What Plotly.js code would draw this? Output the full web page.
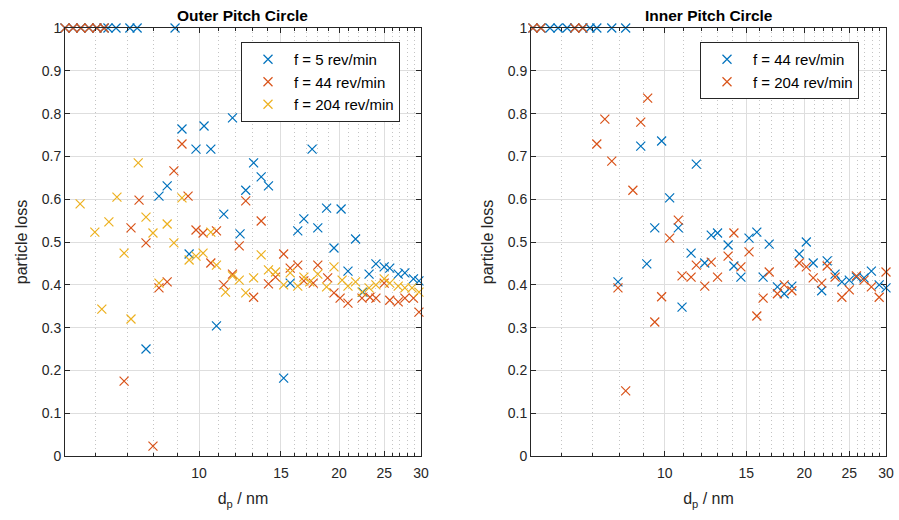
<!DOCTYPE html>
<html>
<head>
<meta charset="utf-8">
<script src="https://cdn.plot.ly/plotly-3.0.1.min.js"></script>
<style>
  html, body { margin: 0; padding: 0; background: #fff; }
  #chart { width: 899px; height: 520px; }
</style>
</head>
<body>
<div id="chart"></div>
<script>
// Particle diameter (nm) and loss fraction, outer pitch circle
const outerSize5 = [5.15,5.36,5.57,5.80,6.03,6.25,6.37,6.63,7.10,7.36,7.69,8.20,8.54,8.88,9.19,9.52,9.85,10.25,10.6,10.9,11.3,11.8,12.25,12.6,13.1,13.6,14.1,15.2,15.7,16.3,16.8,17.5,18.0,18.8,19.5,20.2,20.9,21.7,22.5,23.2,24.0,25.0,25.7,26.8,27.7,28.9,29.7];
const outerLoss5 = [1,1,1,1,1,1,1,1,1,1,0.25,0.607,0.631,1,0.764,0.472,0.717,0.771,0.717,0.304,0.565,0.790,0.519,0.621,0.685,0.652,0.631,0.182,0.404,0.526,0.554,0.717,0.533,0.579,0.486,0.577,0.432,0.507,0.383,0.425,0.449,0.442,0.439,0.425,0.428,0.414,0.409];

const outerSize44 = [5.15,5.36,5.57,5.80,6.03,6.25,6.90,7.14,7.43,7.69,7.96,8.20,8.54,8.83,9.19,9.47,9.85,10.2,10.6,10.9,11.3,11.8,12.2,12.6,13.1,13.6,14.1,14.6,15.2,15.7,16.3,16.8,17.6,18.0,18.9,19.5,20.1,20.9,22.4,23.3,24.0,25.0,25.7,26.8,27.7,28.9,29.7];
const outerLoss44 = [1,1,1,1,1,1,0.175,0.533,0.598,0.498,0.023,0.393,0.407,0.666,0.729,0.607,0.528,0.521,0.451,0.526,0.40,0.425,0.491,0.596,0.371,0.549,0.402,0.418,0.472,0.439,0.446,0.409,0.404,0.446,0.416,0.381,0.369,0.357,0.369,0.371,0.369,0.404,0.364,0.360,0.369,0.369,0.336];

const outerSize204 = [5.55,5.97,6.18,6.40,6.66,6.90,7.14,7.40,7.69,7.96,8.20,8.54,8.83,9.19,9.52,9.85,10.2,10.6,10.9,11.4,11.8,12.2,12.6,13.1,13.6,14.1,14.6,15.2,15.7,16.3,16.8,17.3,18.0,18.8,19.5,20.3,20.9,21.7,22.4,23.2,24.0,25.0,25.7,26.8,27.7,28.7,29.7];
const outerLoss204 = [0.589,0.523,0.343,0.547,0.605,0.474,0.320,0.685,0.558,0.521,0.404,0.542,0.498,0.603,0.458,0.467,0.474,0.523,0.446,0.383,0.421,0.411,0.381,0.416,0.470,0.435,0.430,0.400,0.428,0.397,0.418,0.407,0.425,0.395,0.442,0.411,0.397,0.407,0.383,0.393,0.400,0.414,0.404,0.397,0.393,0.393,0.383];

// Inner pitch circle
const innerSize44 = [5.20,5.41,5.66,5.89,6.16,6.40,6.66,6.90,7.14,7.69,7.93,8.24,8.88,9.15,9.52,9.85,10.25,10.7,10.9,11.4,11.7,12.2,12.6,13.0,13.7,14.1,14.6,15.2,15.8,16.3,16.8,17.5,18.1,18.8,19.5,20.2,20.9,21.8,22.4,23.3,24.1,25.0,25.9,26.9,27.9,29.0,30.0];
const innerLoss44 = [1,1,1,1,1,1,1,1,1,1,0.407,1,0.724,0.449,0.533,0.736,0.603,0.533,0.348,0.474,0.682,0.451,0.516,0.521,0.493,0.444,0.418,0.509,0.523,0.418,0.495,0.395,0.379,0.397,0.472,0.500,0.451,0.386,0.456,0.425,0.407,0.411,0.418,0.416,0.432,0.400,0.393];

const innerSize204 = [5.20,5.41,6.40,6.66,7.14,7.43,7.69,7.93,8.24,8.54,8.88,9.19,9.52,9.85,10.25,10.7,10.9,11.4,11.7,12.2,12.6,13.0,13.7,14.1,14.6,15.2,15.8,16.3,16.8,17.5,18.1,18.8,19.5,20.2,20.9,21.8,22.4,23.3,24.1,25.0,25.9,26.9,27.9,29.0,30.0];
const innerLoss204 = [1,1,1,1,0.729,0.787,0.689,0.393,0.152,0.621,0.780,0.836,0.313,0.372,0.509,0.551,0.421,0.418,0.446,0.397,0.453,0.418,0.467,0.521,0.442,0.477,0.327,0.369,0.430,0.379,0.400,0.386,0.451,0.442,0.416,0.404,0.444,0.418,0.371,0.388,0.421,0.411,0.395,0.371,0.430];

const seriesNames = ['f = 5 rev/min', 'f = 44 rev/min', 'f = 204 rev/min'];
const xTickVals = [10, 15, 20, 25, 30];
const xMinorVals = [6,7,8,9,11,12,13,14,16,17,18,19,21,22,23,24,26,27,28,29];
const yTickVals = [0,0.1,0.2,0.3,0.4,0.5,0.6,0.7,0.8,0.9,1];
const panelTitles = ['Outer Pitch Circle', 'Inner Pitch Circle'];

const blue = '#0072BD', red = '#D95319', gold = '#EDB120';
const ink = '#262626';
const font = 'Liberation Sans, Arial, Helvetica, sans-serif';

function cross(x, y, name, color, xa, ya, legend) {
  return {
    type: 'scatter', mode: 'markers', x: x, y: y, name: name,
    xaxis: xa, yaxis: ya, legend: legend, cliponaxis: false,
    marker: { symbol: 'x-thin-open', size: 9, color: color, line: { color: color, width: 1.2 } }
  };
}

const traces = [
  cross(outerSize5, outerLoss5, seriesNames[0], blue, 'x', 'y', 'legend'),
  cross(outerSize44, outerLoss44, seriesNames[1], red, 'x', 'y', 'legend'),
  cross(outerSize204, outerLoss204, seriesNames[2], gold, 'x', 'y', 'legend'),
  cross(innerSize44, innerLoss44, seriesNames[1], blue, 'x2', 'y2', 'legend2'),
  cross(innerSize204, innerLoss204, seriesNames[2], red, 'x2', 'y2', 'legend2')
];

function xAxis(domain, anchor) {
  return {
    domain: domain, anchor: anchor, type: 'log',
    range: [Math.log10(5.15), Math.log10(30)],
    tickmode: 'array', tickvals: xTickVals, ticktext: xTickVals.map(String),
    ticks: 'inside', ticklen: 5, tickwidth: 1, tickcolor: ink,
    showline: true, linecolor: ink, linewidth: 1, mirror: 'ticks',
    showgrid: true, gridcolor: '#dedede', gridwidth: 1, zeroline: false,
    ticklabelstandoff: 4,
    minor: { tickmode: 'array', tickvals: xMinorVals, ticks: 'inside', ticklen: 3, tickcolor: ink,
             showgrid: true, gridcolor: '#c4c4c4', gridwidth: 1, griddash: '1px,3px' },
    tickfont: { family: font, size: 14, color: ink },
    title: { text: 'd<sub>p</sub> / nm', font: { family: font, size: 16, color: ink }, standoff: 13 }
  };
}
function yAxis(domain, anchor) {
  return {
    domain: domain, anchor: anchor, range: [0, 1],
    tickmode: 'array', tickvals: yTickVals, ticktext: yTickVals.map(String),
    ticks: 'inside', ticklen: 5, tickwidth: 1, tickcolor: ink,
    showline: true, linecolor: ink, linewidth: 1, mirror: 'ticks',
    showgrid: true, gridcolor: '#dedede', gridwidth: 1, zeroline: false,
    tickfont: { family: font, size: 14, color: ink },
    title: { text: 'particle loss', font: { family: font, size: 16, color: ink }, standoff: 10 }
  };
}

const W = 899, H = 520;
const leftDom = [65 / W, 421 / W];
const rightDom = [531 / W, 886 / W];
const yDom = [1 - 456 / H, 1 - 28 / H];

const legendStyle = (x) => ({
  x: x, y: 1 - 42 / H, xanchor: 'left', yanchor: 'top',
  bgcolor: '#ffffff', bordercolor: ink, borderwidth: 1, itemwidth: 42,
  font: { family: font, size: 15, color: '#000' }
});

const layout = {
  width: W, height: H,
  margin: { l: 0, r: 0, t: 0, b: 0 },
  paper_bgcolor: '#ffffff', plot_bgcolor: '#ffffff',
  showlegend: true,
  xaxis: xAxis(leftDom, 'y'),
  yaxis: yAxis(yDom, 'x'),
  xaxis2: xAxis(rightDom, 'y2'),
  yaxis2: yAxis(yDom, 'x2'),
  legend: legendStyle(241 / W),
  legend2: legendStyle(700 / W),
  annotations: [
    { text: '<b>' + panelTitles[0] + '</b>', xref: 'paper', yref: 'paper',
      x: (leftDom[0] + leftDom[1]) / 2, y: 1 - 15 / H, xanchor: 'center', yanchor: 'middle',
      showarrow: false, font: { family: font, size: 15.5, color: '#000' } },
    { text: '<b>' + panelTitles[1] + '</b>', xref: 'paper', yref: 'paper',
      x: (rightDom[0] + rightDom[1]) / 2, y: 1 - 15 / H, xanchor: 'center', yanchor: 'middle',
      showarrow: false, font: { family: font, size: 15.5, color: '#000' } }
  ]
};

Plotly.newPlot('chart', traces, layout, { displayModeBar: false, staticPlot: true });
</script>
</body>
</html>
